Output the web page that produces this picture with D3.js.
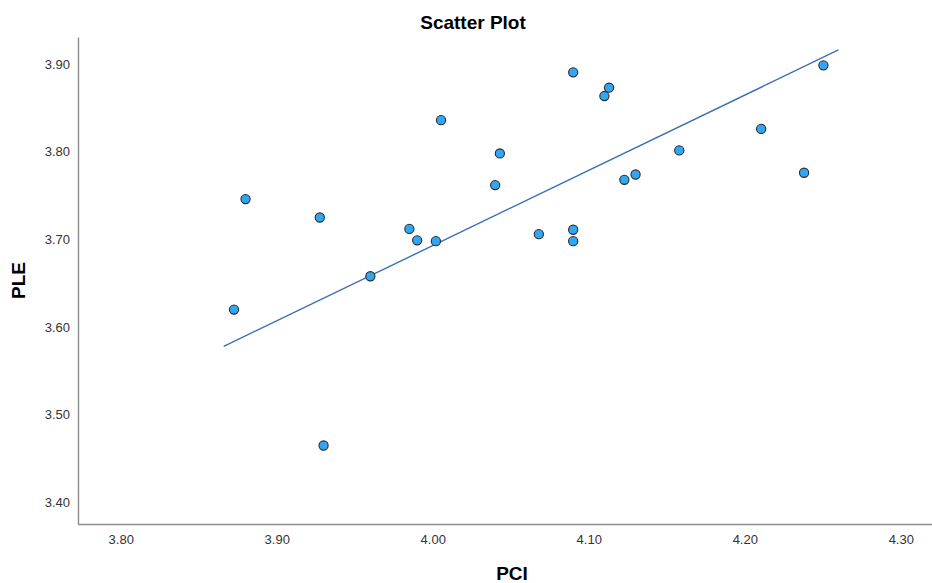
<!DOCTYPE html>
<html>
<head>
<meta charset="utf-8">
<script src="https://cdn.jsdelivr.net/npm/d3@7.9.0/dist/d3.min.js"></script>
<style>
  body { margin: 0; background: #fff; }
  svg { font-family: "Liberation Sans", Arial, sans-serif; }
</style>
</head>
<body>
<svg width="932" height="583"></svg>
<script>
// data
const pci = [3.8726, 3.880, 3.9276, 3.930, 3.960, 3.985, 3.990, 4.002, 4.0053, 4.043, 4.040, 4.068,
             4.090, 4.090, 4.090, 4.113, 4.110, 4.1228, 4.130, 4.158, 4.2105, 4.238, 4.2504];
const ple = [3.620, 3.746, 3.725, 3.465, 3.658, 3.712, 3.699, 3.698, 3.836, 3.798, 3.762, 3.706,
             3.8905, 3.711, 3.698, 3.873, 3.8635, 3.768, 3.774, 3.8015, 3.826, 3.776, 3.8985];
// fit line end points
const fitX = [3.866, 4.260];
const fitY = [3.578, 3.916];
const xTicks = [3.8, 3.9, 4.0, 4.1, 4.2, 4.3];
const yTicks = [3.4, 3.5, 3.6, 3.7, 3.8, 3.9];

let svg = d3.select('svg');
let plotLeft = 78, plotRight = 932, plotTop = 37, plotBottom = 524;

let x = d3.scaleLinear().domain([3.7726, 4.32]).range([plotLeft, plotRight]);
let y = d3.scaleLinear().domain([3.3755, 3.9308]).range([plotBottom, plotTop]);

// axes
let xAxis = svg.append('g')
  .attr('transform', `translate(0,${plotBottom})`)
  .call(d3.axisBottom(x).tickValues(xTicks).tickFormat(d3.format('.2f')).tickSize(0).tickPadding(11));
let yAxis = svg.append('g')
  .attr('transform', `translate(${plotLeft},0)`)
  .call(d3.axisLeft(y).tickValues(yTicks).tickFormat(d3.format('.2f')).tickSize(0).tickPadding(8));

[xAxis, yAxis].forEach((g) => {
  g.select('.domain').attr('stroke', '#8c8c8c').attr('stroke-width', 1.4);
  g.selectAll('text')
    .attr('fill', '#333')
    .style('font-size', '13px')
    .style('font-family', '"Liberation Sans", Arial, sans-serif');
});

// fit line
let line = d3.line().x((d) => x(d[0])).y((d) => y(d[1]));
svg.append('path')
  .attr('d', line(d3.zip(fitX, fitY)))
  .attr('fill', 'none')
  .attr('stroke', '#3b70b7')
  .attr('stroke-width', 1.4);

// points
svg.selectAll('circle')
  .data(d3.zip(pci, ple))
  .enter()
  .append('circle')
  .attr('cx', (d) => x(d[0]))
  .attr('cy', (d) => y(d[1]))
  .attr('r', 4.6)
  .attr('fill', '#33a6f2')
  .attr('stroke', '#2a2a2a')
  .attr('stroke-width', 1.1);

// titles
svg.append('text')
  .attr('x', 473).attr('y', 29)
  .attr('text-anchor', 'middle')
  .style('font-size', '19px').style('font-weight', 'bold')
  .text('Scatter Plot');

svg.append('text')
  .attr('x', 512).attr('y', 580)
  .attr('text-anchor', 'middle')
  .style('font-size', '19px').style('font-weight', 'bold')
  .text('PCI');

svg.append('text')
  .attr('transform', 'translate(25,280.5) rotate(-90)')
  .attr('text-anchor', 'middle')
  .style('font-size', '19px').style('font-weight', 'bold')
  .text('PLE');
</script>
</body>
</html>
